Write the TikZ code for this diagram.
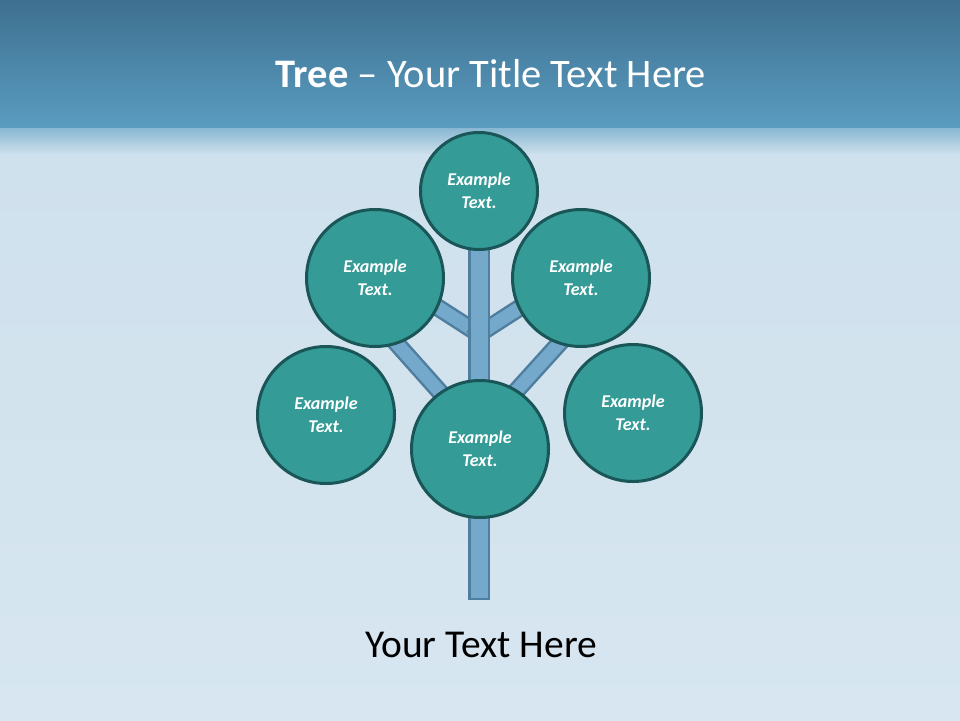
\documentclass[tikz,border=0pt]{standalone}
\usepackage{fontspec}
\setmainfont{Carlito}
\definecolor{bandtop}{HTML}{3E7090}
\definecolor{bandbot}{HTML}{5A9CC0}
\definecolor{icetop}{HTML}{CFE1ED}
\definecolor{icebot}{HTML}{D7E6F0}
\definecolor{leaffill}{HTML}{349B97}
\definecolor{leafline}{HTML}{1A5657}
\definecolor{barfill}{HTML}{74A9CC}
\definecolor{barline}{HTML}{4F7E9E}
\tikzset{
  leaf/.style={circle, draw=leafline, line width=3pt, fill=leaffill, inner sep=0pt,
    minimum size=137pt, text=white, align=center,
    font=\fontsize{18}{23}\selectfont\bfseries\itshape},
  smallleaf/.style={leaf, minimum size=117pt},
  bar/.style={draw=barline, line width=2.5pt, double=barfill, double distance=13pt, line cap=rect},
  trunkbar/.style={bar, double distance=17pt},
}
\begin{document}
\begin{tikzpicture}[x=1pt, y=-1pt]
\useasboundingbox (0,0) rectangle (960,720);
% background
\shade[top color=bandtop, bottom color=bandbot] (0,0) rectangle (960,128);
\shade[top color=bandbot!60!icetop, bottom color=icetop] (0,128) rectangle (960,155);
\shade[top color=icetop, bottom color=icebot] (0,155) rectangle (960,720);

\node[text=white, font=\fontsize{40.5}{48}\selectfont, anchor=base] (title) at (491,87)
  {\textbf{Tree} -- Your Title Text Here};

\coordinate (crown) at (479,240);
\coordinate (root) at (479,589);
\coordinate (j1) at (479,334);
\coordinate (j2) at (480,437);
\coordinate (j3) at (480,431);
\coordinate (e1) at (420,296);
\coordinate (e2) at (538,296);
\coordinate (e3) at (390,336);
\coordinate (e4) at (565,337);

% trunk and branches
\draw[bar] (j1) -- (e1);
\draw[bar] (j1) -- (e2);
\draw[bar] (j2) -- (e3);
\draw[bar] (j3) -- (e4);
\draw[trunkbar] (crown) -- (root);

\node[smallleaf] (n01) at (479,191) {Example\\Text.};

\node[leaf] (n11) at (375,278) {Example\\Text.};
\node[leaf] (n12) at (581,278) {Example\\Text.};

\node[leaf] (n21) at (326,415) {Example\\Text.};
\node[leaf] (n22) at (480,449) {Example\\Text.};
\node[leaf] (n23) at (633,413) {Example\\Text.};

\node[font=\fontsize{39.5}{46}\selectfont, anchor=base] (caption) at (481,657) {Your Text Here};
\end{tikzpicture}
\end{document}
